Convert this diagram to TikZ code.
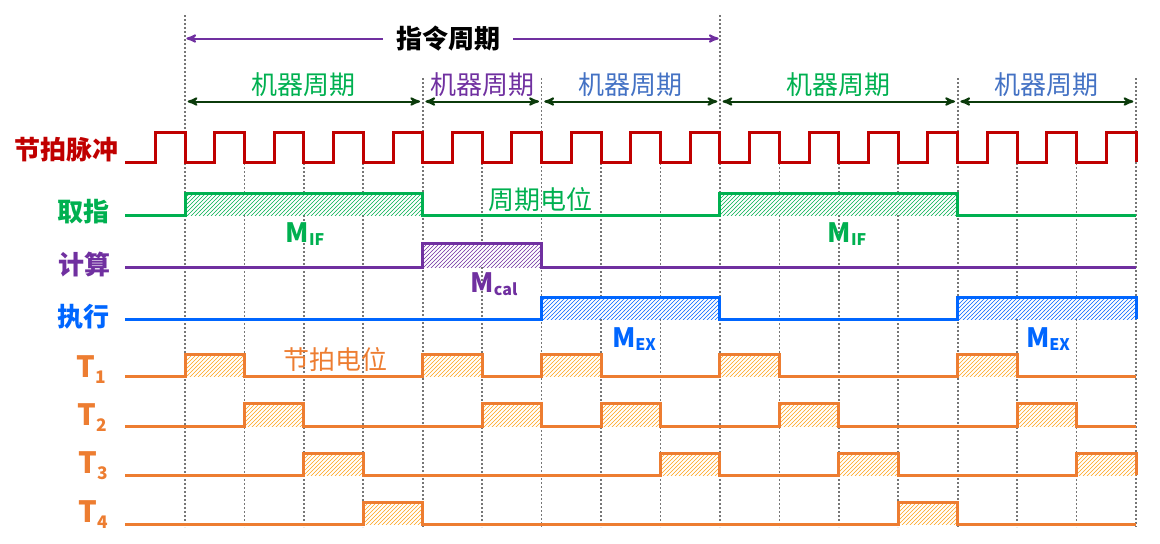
\documentclass[tikz,border=0pt]{standalone}
\usepackage{fontspec}
\setmainfont{Noto Sans CJK SC}
\usepackage{tikz}
\usetikzlibrary{calc}
\usetikzlibrary{patterns}
\usetikzlibrary{arrows}
\definecolor{clkred}{HTML}{C00000}
\definecolor{ifgreen}{HTML}{00B050}
\definecolor{calpurple}{HTML}{7030A0}
\definecolor{exblue}{HTML}{0066FF}
\definecolor{mcblue}{HTML}{4472C4}
\definecolor{torange}{HTML}{ED7D31}
\definecolor{thatch}{HTML}{FFA31A}
\definecolor{arrgreen}{HTML}{0B3B0B}
\definecolor{gridgray}{HTML}{767676}
\newcommand{\msig}[2]{{\fontsize{20}{20}\selectfont\bfseries #1}\raisebox{-2.5pt}{\fontsize{12}{12}\selectfont\bfseries #2}}
\newcommand{\tsig}[1]{{\fontsize{22}{22}\selectfont\bfseries T}\raisebox{-4.5pt}{\fontsize{13}{13}\selectfont\bfseries #1}}
\tikzset{
	every node/.style={inner sep=0pt, outer sep=0pt},
	grid line/.style={gridgray, line width=1.3pt, dash pattern=on 1.3pt off 1.7pt},
	wave/.style={line width=2.25pt},
	hatch/.style={pattern=north east lines, pattern color=#1},
	cycle arrow/.style={arrgreen, line width=1.5pt, <->, >=stealth', shorten <=2pt, shorten >=2pt},
	instr arrow/.style={calpurple, line width=1.5pt, ->, >=stealth', shorten >=1pt},
	lab/.style={font=\fontsize{19.5}{20}\selectfont},
	siglab/.style={font=\fontsize{19.5}{20}\selectfont\bfseries, anchor=east},
	tlab/.style={torange, anchor=base east},
}

\begin{document}
\begin{tikzpicture}[x=0.75pt,y=-0.75pt]
	\useasboundingbox (0,0) rectangle (1160,543);
	\def\w{59.4375}
	% dotted time marks
	\foreach \i/\ytop in {0/15,1/163,2/163,3/163,4/78,5/163,6/78,7/163,8/163,9/15,10/163,11/163,12/163,13/78,14/163,15/163,16/78}
		\draw[grid line] ({185+\w*\i},\ytop) -- ({185+\w*\i},527);
	% instruction cycle
	\coordinate (i0) at (185,38.5);
	\coordinate (i9) at (720,38.5);
	\node[font=\fontsize{19.5}{20}\selectfont\bfseries, inner xsep=10pt] (instr) at (448,38.5) {指令周期};
	\draw[instr arrow] (instr) -- (i0);
	\draw[instr arrow] (instr) -- (i9);
	% machine cycles
	\foreach \i in {0,4,6,9,13,16}
		\coordinate (m\i) at ({185+\w*\i},101.5);
	\draw[cycle arrow] (m0) -- (m4);
	\draw[cycle arrow] (m4) -- (m6);
	\draw[cycle arrow] (m6) -- (m9);
	\draw[cycle arrow] (m9) -- (m13);
	\draw[cycle arrow] (m13) -- (m16);
	\node[lab,ifgreen] (mc1) at ($ (m0)!.5!(m4) + (0,-17) $) {机器周期};
	\node[lab,calpurple] (mc2) at ($ (m4)!.5!(m6) + (0,-17) $) {机器周期};
	\node[lab,mcblue] (mc3) at ($ (m6)!.5!(m9) + (0,-17) $) {机器周期};
	\node[lab,ifgreen] (mc4) at ($ (m9)!.5!(m13) + (0,-17) $) {机器周期};
	\node[lab,mcblue] (mc5) at ($ (m13)!.5!(m16) + (0,-17) $) {机器周期};
	% clock
	\draw[wave,clkred] (125,162) \foreach \i in {0,...,16} { -- ({185+\w*\i-\w/2},162) |- ({185+\w*\i},132) -- ({185+\w*\i},162) };
	% levels
	\foreach \yb/\yh/\col/\hc/\boxes in {
		215/193/ifgreen/ifgreen/{0/4,9/13},
		267/243/calpurple/calpurple/{4/6},
		319/297/exblue/exblue/{6/9,13/16},
		376/354/torange/thatch/{0/1,4/5,6/7,9/10,13/14},
		426/403/torange/thatch/{1/2,5/6,7/8,10/11,14/15},
		475/453/torange/thatch/{2/3,8/9,11/12,15/16},
		524/502/torange/thatch/{3/4,12/13}}
	{
		\foreach \a/\b in \boxes {
			\fill[white] ({185+\w*\a},\yh) rectangle ({185+\w*\b},\yb);
			\fill[hatch=\hc] ({185+\w*\a},\yh) rectangle ({185+\w*\b},\yb);
		}
		\draw[wave,\col] (125,\yb) \foreach \a/\b in \boxes { -- ({185+\w*\a},\yb) |- ({185+\w*\b},\yh) -- ({185+\w*\b},\yb) } -- (1136,\yb);
	}
	% signal names
	\node[siglab,clkred] (clk) at (118,150) {节拍脉冲};
	\node[siglab,ifgreen] (fetch) at (109,212) {取指};
	\node[siglab,calpurple] (calc) at (110,265) {计算};
	\node[siglab,exblue] (exec) at (109,317) {执行};
	\node[tlab] (t1) at (106,377) {\tsig{1}};
	\node[tlab] (t2) at (107,425) {\tsig{2}};
	\node[tlab] (t3) at (108,473) {\tsig{3}};
	\node[tlab] (t4) at (108,522) {\tsig{4}};
	% annotations
	\node[lab,ifgreen] (cyclv) at (540,200) {周期电位};
	\node[lab,torange] (beatlv) at (335,360) {节拍电位};
	\node[ifgreen, anchor=base] (mif1) at (305,242) {\msig{M}{IF}};
	\node[ifgreen, anchor=base] (mif2) at (847,242) {\msig{M}{IF}};
	\node[calpurple, anchor=base] (mcal) at (494,292) {\msig{M}{cal}};
	\node[exblue, anchor=base] (mex1) at (634,347) {\msig{M}{EX}};
	\node[exblue, anchor=base] (mex2) at (1048,347) {\msig{M}{EX}};
\end{tikzpicture}
\end{document}
